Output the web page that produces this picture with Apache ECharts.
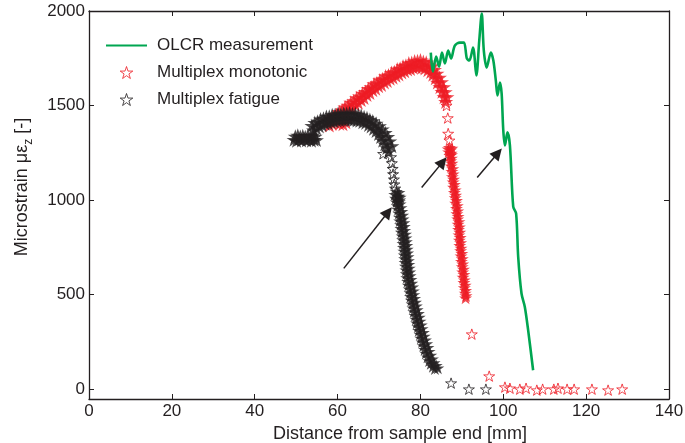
<!DOCTYPE html>
<html><head><meta charset="utf-8">
<script src="https://cdn.jsdelivr.net/npm/echarts@6/dist/echarts.min.js"></script>
<style>html,body{margin:0;padding:0;background:#fff}#c{width:685px;height:443px}</style>
</head><body><div id="c"></div>
<script>
const xTicks = [0, 20, 40, 60, 80, 100, 120, 140];
const yTicks = [0, 500, 1000, 1500, 2000];
const seriesNames = ['OLCR measurement', 'Multiplex monotonic', 'Multiplex fatigue'];

const olcr = [[82.5,1780],[83.0,1680],[83.8,1759],[84.5,1706],[85.2,1780],[85.9,1722],[86.7,1791],[87.4,1749],[88.3,1817],[89.5,1833],[90.5,1833],[91.2,1749],[91.8,1738],[92.7,1807],[93.5,1659],[94.2,1844],[94.8,1986],[95.3,1791],[96.0,1701],[97.0,1780],[97.6,1738],[98.2,1632],[98.6,1553],[99.2,1622],[99.6,1564],[100.0,1368],[100.4,1289],[101.0,1358],[101.6,1289],[102.4,965],[103.1,928],[103.6,699],[104.4,506],[105.2,435],[106.0,312],[107.2,100]];

const monotonicRiseUpper = [[57.6,1420],[58.3,1430],[59.0,1442],[59.7,1450],[60.4,1466],[61.1,1475],[61.8,1491],[62.5,1500],[63.2,1517],[63.9,1525],[64.6,1540],[65.3,1549],[66.0,1564],[66.7,1573],[67.4,1589],[68.1,1598],[68.8,1614],[69.5,1620],[70.2,1635],[70.9,1641],[71.6,1656],[72.3,1661],[73.0,1674],[73.7,1678],[74.4,1692],[75.1,1696],[75.8,1709],[76.5,1713],[77.2,1724],[77.9,1727],[78.6,1735],[79.3,1736],[80.0,1740],[80.7,1732],[81.4,1728],[82.1,1716],[82.8,1709],[83.4,1690],[84.0,1670],[84.6,1648],[85.1,1625],[85.6,1598],[86.0,1572],[86.4,1545]];
const monotonicRiseLower = [[58.0,1395],[58.7,1405],[59.4,1415],[60.1,1427],[60.8,1436],[61.5,1453],[62.2,1462],[62.9,1480],[63.6,1490],[64.3,1505],[65.0,1515],[65.7,1530],[66.4,1540],[67.1,1557],[67.8,1567],[68.5,1582],[69.2,1590],[69.9,1603],[70.6,1610],[71.3,1623],[72.0,1630],[72.7,1642],[73.4,1648],[74.1,1658],[74.8,1665],[75.5,1676],[76.2,1682],[76.9,1691],[77.6,1694],[78.3,1701],[79.0,1703],[79.7,1707],[80.4,1702],[81.1,1697],[81.8,1688],[82.5,1678],[83.0,1664],[83.6,1645],[84.1,1622],[84.7,1598],[85.2,1573],[85.7,1545],[86.1,1520],[60.5,1405],[61.3,1402],[62.0,1412]];
const monotonicFall = [[87.0,1278],[87.3,1265],[86.8,1255],[87.4,1248],[87.1,1236],[87.5,1222],[87.3,1208],[87.6,1195],[87.4,1180],[87.8,1166],[87.6,1152],[87.9,1138],[87.7,1124],[88.0,1110],[87.9,1096],[88.2,1082],[88.0,1068],[88.4,1054],[88.2,1040],[88.5,1026],[88.4,1012],[88.7,998],[88.5,984],[88.9,970],[88.7,956],[89.0,942],[88.8,928],[89.1,914],[89.0,900],[89.3,886],[89.1,872],[89.4,858],[89.2,844],[89.5,830],[89.3,816],[89.6,802],[89.4,788],[89.7,774],[89.5,760],[89.8,746],[89.7,732],[90.0,718],[89.8,704],[90.1,690],[89.9,676],[90.2,662],[90.1,648],[90.4,634],[90.2,620],[90.5,606],[90.3,592],[90.6,578],[90.5,564],[90.8,550],[90.6,536],[90.9,522],[90.8,508],[91.0,494],[90.9,482],[86.7,1270],[87.6,1275],[87.5,1240]];
const monotonicSparse = [[86.3,1500],[86.6,1434],[86.7,1352],[87.0,1316],[92.4,291],[96.6,69],[100.4,11],[101.6,5],[104.0,0],[105.5,5],[108.1,-5],[109.5,0],[112.2,0],[113.2,5],[115.4,0],[117.1,0],[121.4,0],[125.3,-5],[128.7,0]];

const fatigueLeft = [[49.5,1320],[50.1,1314],[50.7,1322],[51.3,1316],[51.9,1324],[52.5,1317],[53.1,1322],[53.7,1315],[54.3,1320],[54.9,1318],[49.8,1337],[50.4,1342],[51.0,1335],[51.6,1340],[52.2,1334],[52.8,1341],[53.4,1336],[54.0,1343],[54.6,1337]];
const fatigueArcUpper = [[53.8,1394],[54.5,1410],[55.2,1416],[55.9,1428],[56.6,1432],[57.3,1442],[58.0,1443],[58.7,1450],[59.4,1450],[60.1,1456],[60.8,1455],[61.5,1459],[62.2,1457],[62.9,1460],[63.6,1456],[64.3,1456],[65.0,1451],[65.7,1448],[66.4,1440],[67.1,1435],[67.8,1426],[68.5,1418],[69.3,1406],[70.1,1392],[70.8,1375],[71.5,1356],[72.1,1335],[72.6,1312],[73.1,1286]];
const fatigueArcLower = [[54.2,1370],[54.9,1381],[55.6,1390],[56.3,1397],[57.0,1405],[57.7,1409],[58.4,1415],[59.1,1417],[59.8,1422],[60.5,1423],[61.2,1426],[61.9,1425],[62.6,1428],[63.3,1425],[64.0,1426],[64.7,1421],[65.4,1420],[66.1,1412],[66.8,1409],[67.5,1398],[68.1,1390],[68.7,1378],[69.3,1366],[69.9,1350],[70.4,1334],[70.9,1315],[71.4,1296],[71.9,1276],[72.3,1255]];
const fatigueNeck = [[71.0,1245],[72.9,1228],[73.1,1196],[73.3,1166],[73.4,1138],[73.6,1110],[73.7,1084],[73.9,1062]];
const fatigueFallLeft = [[74.2,1045],[74.8,1040],[74.5,1020],[75.1,1015],[74.3,1000],[74.9,992],[73.8,1030],[74.0,1010],[74.2,990],[74.4,970],[74.6,950],[74.8,930],[74.9,910],[75.0,890],[75.2,870],[75.3,850],[75.4,830],[75.6,810],[75.7,790],[75.8,770],[75.9,750],[76.0,730],[76.1,710],[76.2,690],[76.3,670],[76.4,650],[76.5,630],[76.6,610],[76.7,590],[76.9,570],[77.1,550],[77.3,530],[77.5,510],[77.6,490],[77.8,470],[78.0,450],[78.2,430],[78.4,410],[78.7,390],[78.9,370],[79.1,350],[79.4,330],[79.6,310],[79.9,290],[80.1,270],[80.4,250],[80.7,230],[81.0,210],[81.3,190],[81.7,170],[82.1,150],[82.5,135],[83.0,120],[83.5,108]];
const fatigueFallRight = [[74.8,1020],[75.0,1000],[75.1,980],[75.3,960],[75.5,940],[75.7,920],[75.8,900],[76.0,880],[76.1,860],[76.2,840],[76.4,820],[76.5,800],[76.6,780],[76.7,760],[76.8,740],[76.9,720],[77.0,700],[77.1,680],[77.2,660],[77.3,640],[77.4,620],[77.5,600],[77.7,580],[77.9,560],[78.1,540],[78.3,520],[78.4,500],[78.6,480],[78.8,460],[79.0,440],[79.2,420],[79.5,400],[79.7,380],[79.9,360],[80.2,340],[80.4,320],[80.7,300],[80.9,280],[81.2,260],[81.5,240],[81.8,220],[82.1,200],[82.5,180],[82.9,160],[83.3,140],[83.8,125],[84.2,112]];
const fatigueSparse = [[87.4,32],[91.7,0],[95.8,0]];

const arrows = [[[61.5,639],[72.2,937]],[[80.3,1067],[85.4,1202]],[[93.7,1120],[98.7,1249]]];

const STAR = 'path://M10,0 L12.25,6.91 L19.51,6.91 L13.63,11.18 L15.88,18.09 L10,13.82 L4.12,18.09 L6.37,11.18 L0.49,6.91 L7.75,6.91 Z';
const FONT = '"Liberation Sans", Arial, Helvetica, sans-serif';
const INK = '#231f20';
const RED = '#ed1c24';
const GREEN = '#00a651';

const monotonicRise = [].concat(monotonicRiseUpper, monotonicRiseLower);
const fatigueArc = [].concat(fatigueLeft, fatigueArcUpper, fatigueArcLower);
const fatigueFall = [].concat(fatigueFallLeft, fatigueFallRight);
const fatigueHollow = [].concat(fatigueNeck, fatigueSparse);

const axisLineStyle = {color: INK, width: 1.3};
function xAx(pos, showLabel) {
  return {
    type: 'value', min: 0, max: 140, interval: 20, position: pos,
    axisLine: {show: true, onZero: false, lineStyle: axisLineStyle},
    axisTick: {show: true, inside: true, length: 5, lineStyle: {color: INK, width: 1}},
    axisLabel: {show: showLabel, fontSize: 17, color: INK, fontFamily: FONT, margin: 4},
    splitLine: {show: false}
  };
}
function yAx(pos, showLabel) {
  return {
    type: 'value', min: -52, max: 2000, position: pos,
    axisLine: {show: true, onZero: false, lineStyle: axisLineStyle},
    axisTick: {show: true, inside: true, length: 5, customValues: yTicks, lineStyle: {color: INK, width: 1}},
    axisLabel: {show: showLabel, customValues: yTicks, fontSize: 17, color: INK, fontFamily: FONT, margin: 4,
      formatter: v => (yTicks.indexOf(v) >= 0 ? String(v) : '')},
    splitLine: {show: false}
  };
}
const xBottom = xAx('bottom', true);
xBottom.name = 'Distance from sample end [mm]';
xBottom.nameLocation = 'middle';
xBottom.nameGap = 24;
xBottom.nameTextStyle = {fontSize: 18, lineHeight: 18, color: INK, fontFamily: FONT, padding: [0, 0, 0, 42]};
const yLeft = yAx('left', true);
yLeft.name = 'Microstrain με{sub|z} [-]';
yLeft.nameLocation = 'middle';
yLeft.nameGap = 54;
yLeft.nameTextStyle = {fontSize: 18, color: INK, fontFamily: FONT, padding: [0, 0, 0, 36],
  rich: {sub: {fontSize: 12, fontFamily: FONT, color: INK, lineHeight: 26, verticalAlign: 'bottom'}}};

function starSeries(name, data, color, filled, size) {
  return {name: name, type: 'scatter', data: data, symbol: STAR, symbolSize: size, symbolKeepAspect: true,
    clip: false, emphasis: {disabled: true},
    itemStyle: filled ? {color: color, borderWidth: 0} : {color: 'rgba(0,0,0,0)', borderColor: color, borderWidth: 1}};
}

const chart = echarts.init(document.getElementById('c'), null, {renderer: 'canvas'});
chart.setOption({
  animation: false,
  backgroundColor: '#fff',
  grid: {left: 89, right: 16, top: 11, bottom: 44, containLabel: false, outerBoundsMode: 'none'},
  xAxis: [xBottom, xAx('top', false)],
  yAxis: [yLeft, yAx('right', false)],
  legend: {
    data: [
      {name: seriesNames[0], itemStyle: {color: 'rgba(0,0,0,0)', borderColor: 'rgba(0,0,0,0)', borderWidth: 0}},
      {name: seriesNames[1], itemStyle: {borderWidth: 1}},
      {name: seriesNames[2], itemStyle: {borderWidth: 1}}
    ],
    orient: 'vertical', left: 105, top: 37, padding: 0,
    itemWidth: 41, itemHeight: 12, itemGap: 10,
    textStyle: {fontSize: 17, color: INK, fontFamily: FONT, padding: [0, 0, 0, 5]}
  },
  series: [
    starSeries(seriesNames[1], monotonicSparse, RED, false, 11),
    starSeries(seriesNames[1], monotonicRise, RED, true, 15),
    starSeries(seriesNames[1], monotonicFall, RED, true, 13),
    starSeries(seriesNames[2], fatigueHollow, INK, false, 11),
    starSeries(seriesNames[2], fatigueArc, INK, true, 15),
    starSeries(seriesNames[2], fatigueFall, INK, true, 13),
    {name: seriesNames[0], type: 'line', data: olcr, symbol: 'none', smooth: 0.3,
      lineStyle: {color: GREEN, width: 2.6}, itemStyle: {color: GREEN}, emphasis: {disabled: true},
      markLine: {silent: true, animation: false, symbol: ['none', 'triangle'], symbolSize: 12,
        label: {show: false}, lineStyle: {color: INK, width: 1.5, type: 'solid'}, emphasis: {disabled: true},
        data: arrows.map(a => [{coord: a[0]}, {coord: a[1]}])}}
  ]
});
</script></body></html>
